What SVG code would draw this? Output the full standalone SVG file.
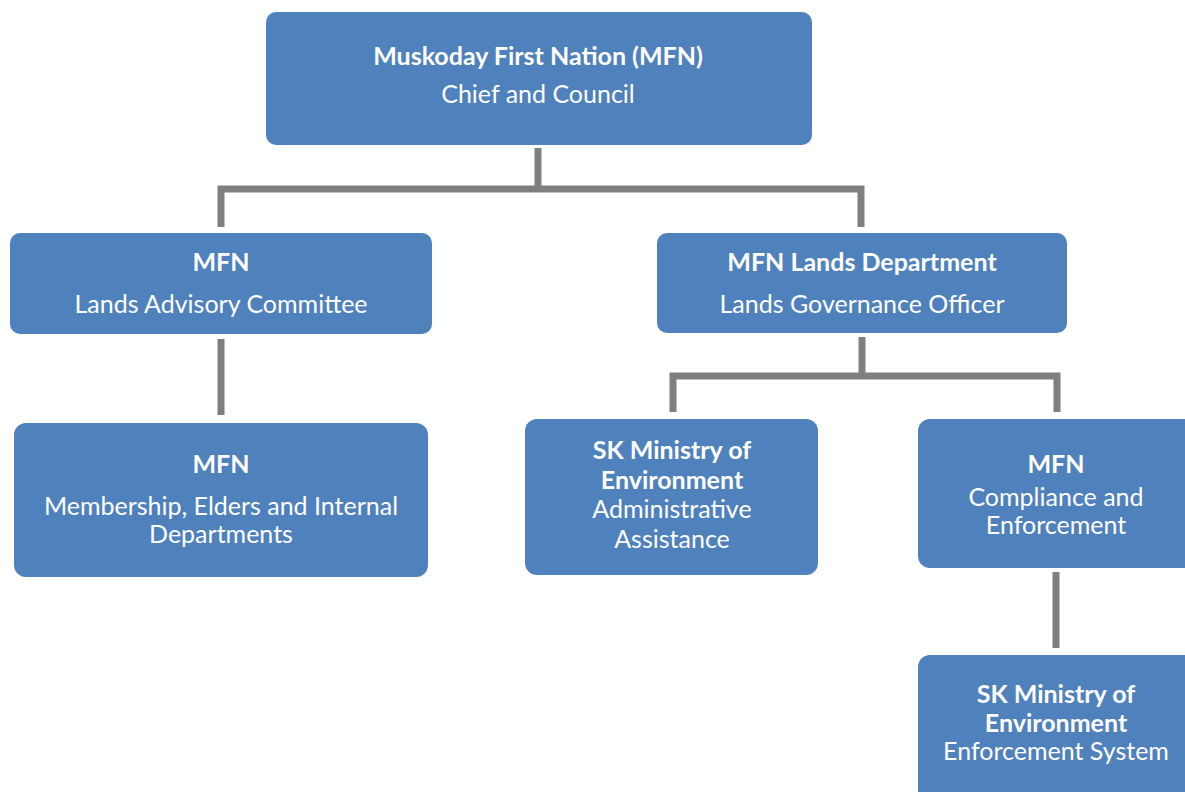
<svg xmlns="http://www.w3.org/2000/svg" width="1185" height="792" viewBox="0 0 1185 792">
<style>
.box{fill:#4F81BD;}
.t{font-family:Lato,"Open Sans","Liberation Sans",sans-serif;font-size:25px;fill:#FFFFFF;text-anchor:middle;}
.b{font-weight:bold;}
.conn{fill:none;stroke:#7F7F7F;stroke-width:7;stroke-linejoin:miter;stroke-linecap:butt;}
</style>
<rect width="1185" height="792" fill="#FFFFFF"/>
<g id="connectors">
<path class="conn" d="M538,148 V189"/>
<path class="conn" d="M221,227 V189 H861 V227"/>
<path class="conn" d="M221,339 V415"/>
<path class="conn" d="M862,337 V376"/>
<path class="conn" d="M673,412 V376 H1057 V412"/>
<path class="conn" d="M1056,572 V648"/>
</g>
<g id="node-chief">
<rect class="box" x="266" y="12" width="546" height="133" rx="10"/>
<text class="t b" x="538" y="65">Muskoday First Nation (MFN)</text>
<text class="t" x="538" y="103">Chief and Council</text>
</g>
<g id="node-advisory">
<rect class="box" x="10" y="233" width="422" height="101" rx="10"/>
<text class="t b" x="221" y="271">MFN</text>
<text class="t" x="221" y="313">Lands Advisory Committee</text>
</g>
<g id="node-lands">
<rect class="box" x="657" y="233" width="410" height="100" rx="10"/>
<text class="t b" x="862" y="271">MFN Lands Department</text>
<text class="t" x="862" y="313">Lands Governance Officer</text>
</g>
<g id="node-membership">
<rect class="box" x="14" y="423" width="414" height="154" rx="12"/>
<text class="t b" x="221" y="473">MFN</text>
<text class="t" x="221" y="515">Membership, Elders and Internal</text>
<text class="t" x="221" y="543">Departments</text>
</g>
<g id="node-admin">
<rect class="box" x="525" y="419" width="293" height="156" rx="12"/>
<text class="t b" x="672" y="459">SK Ministry of</text>
<text class="t b" x="672" y="489">Environment</text>
<text class="t" x="672" y="518">Administrative</text>
<text class="t" x="672" y="548">Assistance</text>
</g>
<g id="node-compliance">
<rect class="box" x="918" y="419" width="280" height="149" rx="12"/>
<text class="t b" x="1056" y="473">MFN</text>
<text class="t" x="1056" y="506">Compliance and</text>
<text class="t" x="1056" y="534">Enforcement</text>
</g>
<g id="node-enforcement">
<rect class="box" x="918" y="655" width="280" height="150" rx="12"/>
<text class="t b" x="1056" y="703">SK Ministry of</text>
<text class="t b" x="1056" y="732">Environment</text>
<text class="t" x="1056" y="760">Enforcement System</text>
</g>
</svg>
